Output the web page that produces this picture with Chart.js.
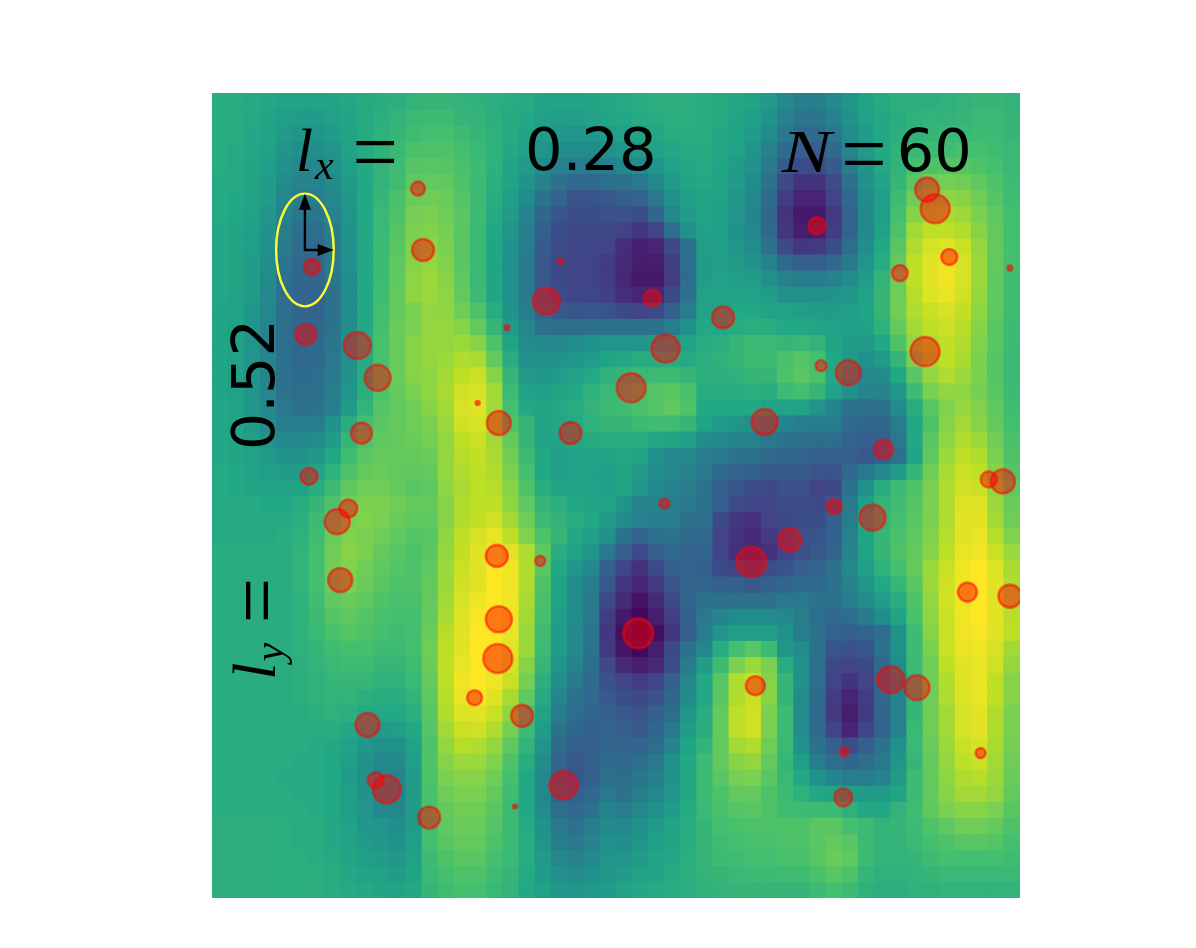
<!DOCTYPE html>
<html><head><meta charset="utf-8">
<style>html,body{margin:0;padding:0;background:#fff}canvas{display:block;filter:blur(0.55px)}</style>
<script src="https://cdn.jsdelivr.net/npm/chart.js@4/dist/chart.umd.min.js"></script>
</head><body><canvas id="c" width="1196" height="948"></canvas>
<script>
// Field values, 0-100, one row per image row from top to bottom, 50 columns each
const heatRows = [
[62,62,61,60,58,58,58,59,60,61,62,63,65,66,66,65,64,63,62,61,59,58,58,59,60,61,62,63,63,63,62,61,60,58,54,47,43,43,47,53,58,61,63,63,63,64,65,66,66,65],
[62,62,61,59,56,55,55,57,59,61,63,65,67,68,68,66,65,63,61,60,57,56,56,57,59,60,61,62,63,63,62,61,59,56,51,44,39,39,44,51,57,60,62,64,65,65,66,67,67,66],
[62,62,60,58,54,52,52,55,58,61,64,66,69,70,70,68,66,64,61,59,55,53,52,53,55,57,58,60,62,62,62,60,58,54,48,40,35,35,40,48,55,60,63,65,66,67,67,68,68,66],
[62,61,60,57,52,49,49,52,57,61,64,67,71,72,72,70,67,64,60,57,52,49,48,48,50,52,54,57,60,61,61,60,57,52,44,35,30,30,35,45,54,60,64,67,68,69,70,70,69,67],
[62,61,59,56,50,46,46,50,56,60,65,68,73,74,73,71,68,64,59,54,48,44,42,42,43,46,48,52,57,60,61,59,55,50,41,29,23,23,29,42,52,60,65,70,72,73,73,72,70,67],
[61,61,59,55,48,44,44,48,54,60,65,69,75,76,75,72,68,63,58,51,44,38,34,34,36,38,40,46,54,59,60,58,54,48,38,22,15,15,23,38,50,58,66,74,78,79,78,75,72,68],
[61,60,58,54,46,42,42,46,53,60,66,71,77,78,77,73,68,62,56,48,38,32,26,26,28,30,32,40,50,56,58,57,52,46,35,18,10,10,20,34,48,56,68,78,82,83,82,78,73,69],
[61,60,57,52,44,39,39,44,52,60,67,72,79,80,78,74,68,61,54,45,33,27,24,24,25,25,24,33,46,55,58,56,52,45,33,15,7,7,17,32,47,56,70,82,86,87,85,80,75,70],
[60,59,56,51,42,37,37,42,51,60,67,73,80,81,79,74,67,60,52,43,30,24,22,22,22,20,16,20,36,50,57,56,51,46,34,16,8,8,18,32,47,57,72,86,90,90,88,82,76,70],
[60,59,56,50,41,35,35,41,50,60,68,74,81,83,80,74,67,59,51,42,29,23,21,21,20,13,9,10,22,38,56,56,52,48,38,22,16,17,24,36,49,60,74,88,94,95,92,84,76,70],
[60,59,55,49,39,34,34,40,50,60,68,75,82,84,81,74,67,59,50,41,28,22,20,20,18,12,8,8,19,37,55,56,54,51,44,34,30,30,34,41,52,62,76,90,96,98,94,85,76,70],
[60,59,55,48,38,33,33,39,49,60,68,75,83,85,82,75,67,59,50,41,28,22,20,20,18,11,7,7,18,36,55,57,56,55,50,44,42,42,44,48,55,65,78,90,96,98,94,85,75,69],
[60,58,54,47,37,32,32,38,49,60,69,76,83,85,83,76,68,59,50,41,29,24,21,21,19,13,10,11,22,38,57,58,58,57,55,50,50,50,51,53,57,66,78,89,95,97,93,84,75,69],
[59,58,53,46,36,32,32,38,49,60,70,76,80,84,83,78,72,62,51,42,33,28,26,27,26,22,20,22,30,42,58,59,60,60,58,57,56,55,55,56,58,66,78,88,92,94,91,83,75,69],
[59,57,52,45,36,33,33,38,49,60,70,77,80,84,84,82,76,66,54,46,38,36,36,37,38,38,38,38,42,50,60,60,62,63,62,60,60,59,57,56,57,64,76,86,90,92,89,82,74,68],
[59,57,52,45,36,33,34,39,49,61,71,77,82,84,84,85,82,72,58,48,47,46,48,50,52,52,52,54,55,58,62,63,66,68,67,66,67,65,58,55,54,60,72,84,88,91,88,81,74,68],
[59,57,52,45,37,34,35,40,50,61,71,77,82,84,85,88,87,76,62,50,50,51,53,55,58,60,62,62,62,61,63,64,66,68,68,71,73,70,60,54,50,54,66,80,86,90,87,80,73,67],
[59,57,52,45,37,35,36,41,51,62,72,77,82,83,86,90,92,82,66,54,53,55,57,60,64,66,67,68,68,66,63,63,64,66,66,72,74,71,60,52,46,48,60,74,84,88,85,80,73,67],
[59,57,52,46,38,36,37,42,52,63,72,76,80,83,87,93,94,86,68,57,56,58,60,64,67,69,71,73,74,71,62,62,62,63,62,68,70,66,57,50,44,44,53,68,80,84,83,79,74,68],
[60,58,53,47,40,37,38,43,54,65,73,76,78,82,86,94,95,86,70,60,58,60,62,65,68,69,71,73,75,72,60,60,60,60,58,58,58,52,45,38,36,38,48,62,74,81,84,81,75,69],
[60,58,54,48,42,42,42,50,62,70,74,76,78,80,85,93,94,86,72,66,58,60,61,64,66,66,68,69,69,66,58,55,52,50,47,45,42,42,42,35,33,33,42,60,72,82,86,82,76,70],
[60,59,56,51,47,47,48,55,66,72,75,76,77,79,84,90,92,86,76,66,58,58,60,61,62,62,62,60,58,56,48,46,44,44,40,38,37,36,36,32,30,30,40,60,74,83,88,85,78,71],
[60,59,57,54,51,51,53,60,69,74,76,76,76,77,84,89,91,87,78,68,60,56,57,58,58,60,58,50,47,46,42,40,38,38,34,33,32,30,30,30,28,30,38,58,75,85,90,88,80,72],
[61,60,58,56,55,55,58,64,72,76,77,76,75,76,84,88,90,88,80,70,60,56,57,57,56,59,54,48,46,44,40,35,32,31,28,29,29,26,26,34,40,46,54,66,78,87,92,90,82,73],
[61,60,59,58,57,58,62,68,75,78,78,76,74,75,83,87,90,89,82,72,62,58,58,57,56,58,52,47,45,42,38,30,26,24,22,25,25,20,22,38,50,62,68,72,80,88,93,92,84,75],
[61,61,61,60,60,62,66,72,78,80,80,78,76,76,82,88,90,90,83,75,66,63,60,59,58,52,45,44,43,40,38,30,23,21,20,23,24,22,26,41,56,65,69,73,80,88,95,95,85,77],
[61,61,61,61,61,63,68,75,80,81,80,77,75,75,82,88,91,93,86,78,68,65,62,60,54,48,44,43,42,38,36,22,16,14,20,22,24,24,30,42,60,66,70,74,80,88,96,96,86,78],
[61,61,61,61,62,64,69,77,81,80,78,75,73,74,83,90,94,97,90,81,72,66,60,56,50,38,32,36,38,35,34,20,15,12,17,21,25,26,31,44,59,66,71,75,81,89,96,97,89,81],
[62,62,62,62,62,65,70,78,82,80,76,74,72,74,84,91,96,99,96,88,75,62,57,52,40,30,22,30,34,32,32,20,14,12,14,20,25,28,32,45,58,66,72,76,82,90,97,98,92,85],
[62,62,62,62,62,65,70,78,81,78,75,73,72,75,85,92,96,100,98,88,74,60,52,47,30,20,14,22,30,32,30,22,20,18,24,26,30,32,38,46,56,64,70,76,85,92,98,100,95,87],
[62,62,62,62,62,65,70,77,80,77,74,72,72,76,85,93,96,100,98,88,72,58,48,42,28,16,10,17,26,32,33,30,30,28,31,33,35,35,38,44,52,60,66,74,85,93,98,100,96,88],
[62,62,62,62,62,64,69,75,77,75,72,71,71,76,86,94,98,100,98,87,71,57,48,41,22,12,5,12,22,32,38,38,38,38,38,40,40,38,38,42,48,55,62,72,84,93,98,100,96,88],
[62,62,62,62,62,64,68,73,75,73,71,70,70,76,87,95,99,100,98,86,70,56,48,40,18,7,2,8,19,31,40,45,48,48,48,46,42,36,34,36,41,48,58,71,83,92,98,100,96,89],
[62,62,62,62,62,64,67,71,73,72,70,69,70,77,89,96,100,100,97,85,69,55,47,39,16,4,0,4,16,30,42,52,56,56,56,50,42,38,32,30,32,36,50,68,82,92,98,99,96,90],
[62,62,62,62,62,64,66,69,70,70,68,68,70,78,90,96,100,100,96,85,68,55,47,38,17,6,2,8,22,38,46,62,70,74,68,52,48,38,27,25,27,38,50,68,80,92,97,98,94,86],
[62,62,62,62,62,63,65,67,68,68,66,66,69,77,90,97,100,99,94,82,66,52,44,37,22,12,8,12,24,42,55,68,80,85,80,62,50,36,22,20,22,34,48,68,78,90,96,97,93,84],
[62,62,62,62,62,63,64,66,66,66,64,64,67,76,90,98,100,98,92,79,63,49,41,35,25,20,18,20,30,46,60,74,88,92,82,66,50,36,20,15,20,34,44,66,78,88,95,97,90,82],
[62,62,62,62,62,63,64,65,65,63,62,62,65,75,89,97,99,95,87,75,61,45,38,34,28,24,22,25,33,48,60,74,88,92,82,66,48,35,18,10,18,34,44,66,78,88,95,97,90,82],
[62,62,62,62,62,62,63,64,63,60,60,60,63,74,88,95,96,92,83,71,58,42,36,33,30,28,26,30,36,52,62,76,90,93,80,68,48,34,17,8,17,32,44,66,78,86,94,96,88,80],
[62,62,62,62,62,62,62,62,60,57,55,56,60,73,86,92,93,88,79,68,55,38,33,31,32,30,28,33,40,55,62,76,90,93,80,68,48,35,20,10,20,32,44,67,78,86,94,96,88,80],
[62,62,62,62,62,62,61,60,57,53,50,50,57,72,84,89,88,84,75,65,52,35,30,30,33,32,32,36,45,58,65,76,86,88,78,67,50,38,30,24,30,38,50,67,77,85,92,94,87,79],
[62,62,62,62,62,61,61,60,56,51,47,47,56,72,82,85,85,81,72,62,49,32,28,30,35,34,36,40,50,60,68,76,82,84,76,66,56,42,36,33,36,40,52,66,76,84,90,92,86,78],
[62,62,62,62,61,61,61,60,55,50,45,45,55,72,80,82,82,78,70,60,46,30,27,30,37,36,39,43,51,60,68,74,79,80,74,67,60,50,45,42,42,44,54,68,76,83,88,89,85,77],
[62,62,62,62,62,61,61,60,56,51,46,45,55,71,78,80,80,76,69,60,46,32,30,34,40,38,42,46,52,60,68,72,76,76,72,68,64,60,58,56,54,54,58,68,76,82,86,86,84,76],
[62,62,62,62,62,62,61,60,56,52,47,46,55,71,76,78,78,74,68,60,48,36,34,38,44,42,46,50,55,61,67,71,73,74,72,69,68,68,68,64,60,60,65,69,75,80,82,82,80,74],
[63,63,63,63,63,62,62,60,57,53,52,49,55,70,75,77,77,73,68,61,50,40,38,42,47,46,50,54,58,62,66,70,71,72,72,72,72,74,74,70,68,65,66,68,72,75,78,78,76,72],
[63,63,63,63,63,62,62,60,57,54,53,50,56,70,74,76,76,72,68,62,52,42,40,44,50,49,52,56,59,62,66,69,70,71,71,72,72,74,76,74,68,65,65,67,70,72,74,74,73,70],
[63,63,63,63,63,63,62,61,59,56,55,53,57,68,72,74,74,70,67,62,54,46,44,47,52,52,55,58,60,63,66,68,69,70,70,71,71,74,77,75,68,65,65,66,68,70,70,70,70,69],
[63,63,63,63,63,63,63,62,60,58,57,55,58,67,70,72,72,69,66,61,55,50,48,50,53,55,57,59,61,63,65,66,67,68,68,69,69,71,74,72,66,64,64,65,66,67,67,67,67,67],
[63,63,63,63,63,63,63,62,61,60,59,58,60,66,69,70,70,67,65,60,57,53,52,54,55,58,60,61,62,63,64,65,66,66,66,66,66,68,70,68,64,63,63,64,64,65,65,65,65,65]
];

// Scattered observations on the [-4, 4] square, with their marker sizes
const pointX = [-1.96,-1.91,-3.01,-3.07,-2.56,-2.36,-2.52,-3.04,-2.65,-2.76,-2.73,-2.46,-2.38,-2.27,-1.85,-1.40,-0.93,-1.18,-1.16,-1.17,-0.75,-1.00,-0.52,0.22,-1.37,-1.16,-0.45,-1.08,-0.69,-0.55,0.36,0.49,0.15,1.06,1.99,1.47,0.48,1.34,1.72,2.16,2.54,2.65,2.30,2.03,3.06,2.81,3.30,3.90,3.08,3.16,3.69,3.83,3.48,3.90,1.38,2.72,2.98,2.26,2.25,3.61];
const pointY = [3.05,2.44,2.27,1.60,1.49,1.17,0.62,0.19,-0.13,-0.26,-0.84,-2.28,-2.83,-2.92,-3.20,-2.01,-2.19,-0.60,-1.23,-1.62,-0.65,-3.09,-2.88,-1.37,0.92,0.72,0.62,1.67,1.93,2.33,1.96,1.46,1.07,1.77,2.68,0.73,-0.08,-0.66,-0.44,-0.11,-0.22,0.46,1.22,1.29,1.43,2.21,2.37,2.26,3.04,2.85,0.16,0.14,-0.96,-1.00,-1.89,-1.83,-1.91,-2.55,-3.00,-2.56];
const pointSize = [8,12,9,11.5,14.5,14,11.5,9.5,10,13.5,13,13,9,15,12,8.5,12,12,14,15.5,6,3,15,16,3,13,12,3.5,14.5,3.5,9.5,15,15.5,12,9.5,14,6,16,12.5,8.5,14,10.5,13.5,6.5,15.5,9,9,3.5,13,15.5,9,13,10.5,12.5,10.5,14.5,13.5,5.5,10,6];

// Kernel ellipse
const ellipseCenter = [-3.08, 2.44];
const ellipseRadii = [0.285, 0.56];

// The grid's axes run in cells: columns -0.5..49.5, rows 0..50 downwards
const toCol = v => (v + 4) * 6.25 - 0.5;
const toRow = v => (4 - v) * 6.25;

const viridis = ['#440154','#482475','#414487','#355f8d','#2a788e','#21918c','#22a884','#44bf70','#7ad151','#bddf26','#fde725'];
function colorOf(v) {
  const t = Math.max(0, Math.min(1, v / 100)) * (viridis.length - 1);
  const i = Math.min(viridis.length - 2, Math.floor(t)), f = t - i;
  const rgb = k => parseInt(viridis[i].substr(k, 2), 16) * (1 - f) + parseInt(viridis[i + 1].substr(k, 2), 16) * f;
  return `rgb(${rgb(1) | 0},${rgb(3) | 0},${rgb(5) | 0})`;
}

const cellDatasets = heatRows.map((row, r) => ({
  type: 'bar', order: 2, grouped: false,
  data: row.map((_, c) => ({x: c, y: [r, r + 1]})),
  backgroundColor: row.map(colorOf),
  borderWidth: 0, borderSkipped: false, inflateAmount: 0.5,
  categoryPercentage: 1, barPercentage: 1
}));

const overlay = {
  id: 'overlay',
  afterDatasetsDraw(chart) {
    const ctx = chart.ctx, X = chart.scales.x, Y = chart.scales.y;
    const fx = v => X.getPixelForValue(toCol(v)), fy = v => Y.getPixelForValue(toRow(v));
    const cx = fx(ellipseCenter[0]), cy = fy(ellipseCenter[1]);
    const rx = fx(ellipseCenter[0] + ellipseRadii[0]) - cx, ry = cy - fy(ellipseCenter[1] + ellipseRadii[1]);
    ctx.save();
    ctx.strokeStyle = '#ffff33'; ctx.lineWidth = 2.4;
    ctx.beginPath(); ctx.ellipse(cx, cy, rx, ry, 0, 0, Math.PI * 2); ctx.stroke();
    ctx.strokeStyle = '#000'; ctx.fillStyle = '#000'; ctx.lineWidth = 2.4;
    ctx.beginPath(); ctx.moveTo(cx, cy); ctx.lineTo(cx, cy - ry + 12); ctx.moveTo(cx - 1.2, cy); ctx.lineTo(cx + rx - 12, cy); ctx.stroke();
    ctx.beginPath(); ctx.moveTo(cx, cy - ry); ctx.lineTo(cx - 6, cy - ry + 16); ctx.lineTo(cx + 6, cy - ry + 16); ctx.closePath(); ctx.fill();
    ctx.beginPath(); ctx.moveTo(cx + rx, cy); ctx.lineTo(cx + rx - 16, cy - 6); ctx.lineTo(cx + rx - 16, cy + 6); ctx.closePath(); ctx.fill();

    const serif = 'italic 62px "Liberation Serif"', sub = 'italic 42px "Liberation Serif"', eq = '72px "Liberation Serif"', sans = '59px "DejaVu Sans"';
    const put = (s, x, y, font, rot, sx, sy) => {
      ctx.save(); ctx.translate(fx(x), fy(y)); if (rot) ctx.rotate(-Math.PI / 2); ctx.scale(sx || 1, sy || 1);
      ctx.font = font; ctx.textBaseline = 'alphabetic'; ctx.textAlign = 'left'; ctx.fillText(s, 0, 0); ctx.restore();
    };
    put('l', -3.17, 3.22, serif);
    put('x', -2.98, 3.15, sub);
    put('=', -2.61, 3.126, eq, false, 1.12, 1.2);
    put('0.28', -0.90, 3.23, sans);
    put('N', 1.64, 3.21, serif, false, 1.2);
    put('=', 2.23, 3.106, eq, false, 1.12, 1.2);
    put('60', 2.78, 3.22, sans);
    put('0.52', -3.39, 0.45, sans, true);
    put('l', -3.38, -1.83, serif, true);
    put('y', -3.30, -1.65, sub, true);
    put('=', -3.267, -1.27, eq, true, 1.12, 1.2);
    ctx.restore();
  }
};

new Chart(document.getElementById('c'), {
  data: {
    datasets: [{
      type: 'scatter', order: 0,
      data: pointX.map((x, i) => ({x: toCol(x), y: toRow(pointY[i])})),
      pointRadius: pointSize.map(s => s - 1),
      pointBackgroundColor: 'rgba(255,0,0,0.48)',
      pointBorderColor: 'rgba(255,0,0,0.5)',
      pointBorderWidth: 2.6,
      clip: 0
    }, ...cellDatasets]
  },
  options: {
    responsive: false, animation: false,
    layout: {padding: {left: 212, top: 93, right: 176, bottom: 50}},
    plugins: {legend: {display: false}, tooltip: {enabled: false}, title: {display: false}},
    scales: {
      x: {type: 'linear', min: -0.5, max: 49.5, offset: false, display: false},
      y: {type: 'linear', reverse: true, min: 0, max: 50, display: false}
    }
  },
  plugins: [overlay]
});
</script></body></html>
